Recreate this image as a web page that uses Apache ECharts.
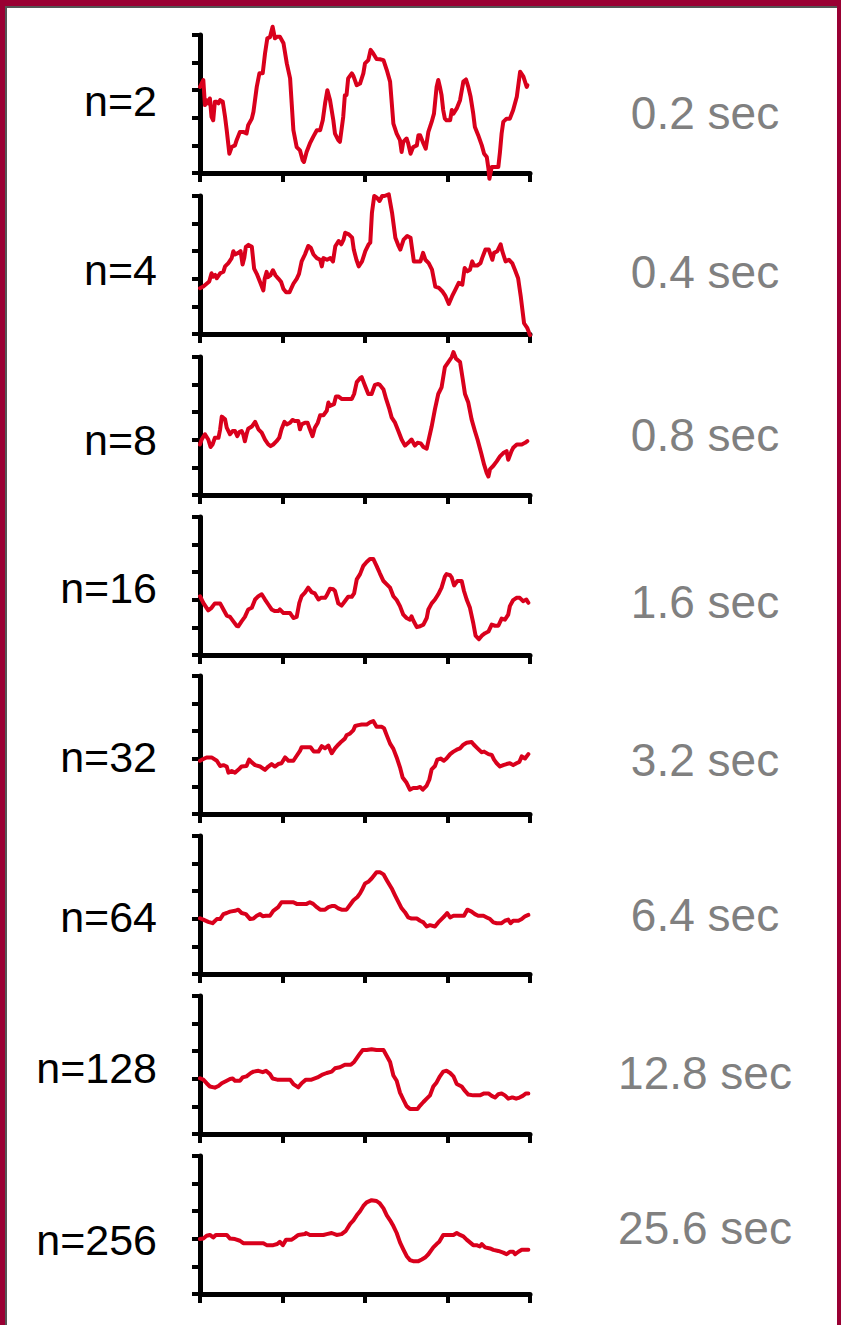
<!DOCTYPE html>
<html>
<head>
<meta charset="utf-8">
<script src="https://cdn.jsdelivr.net/npm/echarts@6/dist/echarts.min.js"></script>
<style>
  html, body { margin: 0; padding: 0; background: #990033; width: 841px; height: 1325px; overflow: hidden; }
  #frame { position: absolute; left: 5px; top: 6px; width: 832px; height: 1319px; background: #ffffff;
           border-left: 2px solid #555; border-top: 2px solid #555; box-sizing: border-box; }
  #chart { position: absolute; left: 0; top: 0; width: 841px; height: 1325px; }
</style>
</head>
<body>
<div id="frame"></div>
<div id="chart"></div>
<script>
// ---------- DATA ----------
const panelLabels = ['n=2', 'n=4', 'n=8', 'n=16', 'n=32', 'n=64', 'n=128', 'n=256'];
const timeLabels = ['0.2 sec', '0.4 sec', '0.8 sec', '1.6 sec', '3.2 sec', '6.4 sec', '12.8 sec', '25.6 sec'];
const xTickValues = [0, 25, 50, 75, 100];
const yTickValues = [0, 1, 2, 3, 4, 5];

const n2 = [[0,3.12],[1.0,3.37],[1.5,2.46],[2.0,2.64],[2.5,2.52],[3.0,2.70],[3.5,2.03],[4.0,1.91],[4.5,2.58],[5.1,2.58],[5.6,2.52],[6.1,2.64],[6.9,2.58],[7.6,2.03],[8.1,1.55],[8.9,0.70],[9.6,0.94],[10.6,1.00],[11.1,1.19],[12.1,1.49],[13.1,1.49],[14.1,1.43],[14.6,1.73],[15.7,1.97],[16.2,2.22],[17.2,3.12],[18.0,3.61],[19.0,3.61],[19.7,4.33],[20.4,4.88],[21.2,4.92],[22.0,5.30],[22.7,4.88],[23.4,4.94],[24.2,4.94],[25.3,4.70],[26.3,3.97],[27.3,3.43],[28.3,1.55],[29.3,0.94],[30.3,0.82],[31.1,0.46],[31.5,0.40],[32.3,0.76],[33.3,1.07],[34.3,1.31],[35.4,1.55],[36.4,1.55],[37.2,1.91],[37.9,2.52],[38.6,3.00],[39.4,2.64],[40.4,1.91],[40.9,1.43],[41.9,1.19],[42.4,1.13],[43.4,2.03],[43.9,2.82],[44.4,2.82],[44.9,3.43],[46.0,3.61],[46.5,3.51],[47.5,3.18],[48.5,3.24],[49.5,3.61],[50.0,3.97],[51.0,4.09],[51.7,4.46],[52.5,4.33],[53.5,4.13],[54.5,4.12],[55.6,4.09],[56.6,3.73],[57.6,3.31],[58.6,1.79],[59.6,1.43],[60.6,1.19],[61.1,0.76],[61.6,1.13],[62.6,1.25],[63.1,1.07],[63.8,0.70],[64.6,0.94],[65.7,1.00],[66.2,1.37],[66.7,1.37],[67.7,1.07],[68.4,0.88],[69.2,1.49],[70.2,1.85],[70.9,2.15],[71.7,3.12],[72.2,3.37],[72.7,3.12],[73.2,2.82],[73.7,2.28],[74.2,1.97],[74.7,1.91],[75.8,1.91],[76.3,2.28],[76.8,2.15],[77.8,2.34],[78.8,2.64],[79.8,3.31],[80.6,3.39],[81.3,3.12],[82.0,2.76],[82.8,2.15],[83.3,1.67],[84.3,1.37],[85.4,1.00],[86.1,0.70],[86.9,0.58],[87.4,0.16],[87.7,-0.21],[88.4,0.22],[89.9,0.22],[90.4,0.22],[90.9,0.76],[91.4,1.43],[91.9,1.85],[92.9,1.97],[93.9,1.97],[94.9,2.28],[96.0,2.76],[97.0,3.67],[98.0,3.49],[99.0,3.12],[99.2,3.18]];

const n4 = [[0,1.66],[1.0,1.72],[2.0,1.82],[2.8,1.90],[3.5,2.20],[4.0,2.08],[4.6,2.14],[5.1,2.02],[6.1,2.20],[7.1,2.26],[7.6,2.45],[8.6,2.57],[9.6,2.75],[10.1,3.00],[10.6,2.88],[11.6,2.94],[12.3,3.00],[12.9,2.52],[13.4,2.75],[13.9,3.16],[14.7,3.23],[15.7,3.16],[16.4,2.37],[17.2,2.18],[18.2,1.88],[19.2,1.58],[19.6,2.00],[20.2,2.25],[20.6,2.06],[21.3,2.12],[22.1,2.31],[22.9,2.12],[23.8,2.00],[24.6,1.88],[25.3,1.63],[26.1,1.51],[27.1,1.51],[28.3,1.82],[29.3,2.00],[30.0,2.18],[30.8,2.63],[31.8,2.88],[32.8,3.19],[33.6,3.12],[34.4,2.88],[35.4,2.75],[36.4,2.69],[36.9,2.45],[37.4,2.75],[38.5,2.69],[39.5,2.75],[40.3,2.63],[41.0,3.18],[42.0,3.37],[42.8,3.25],[43.5,3.42],[44.0,3.67],[45.1,3.61],[46.1,3.49],[46.6,3.06],[47.4,2.69],[48.1,2.45],[49.1,2.63],[50.1,3.00],[51.1,3.25],[51.6,3.31],[52.1,4.39],[52.8,5.00],[53.6,4.94],[54.4,4.82],[55.2,5.00],[55.9,5.00],[57.2,5.06],[58.2,4.39],[59.2,3.49],[60.2,3.18],[60.7,3.06],[61.7,3.42],[62.8,3.55],[63.8,3.49],[64.8,2.63],[65.8,2.63],[66.8,2.63],[67.6,2.94],[68.3,2.69],[69.3,2.57],[70.3,2.33],[71.3,1.72],[72.4,1.67],[73.4,1.55],[74.4,1.37],[75.4,1.09],[76.4,1.37],[77.4,1.61],[78.4,1.85],[79.5,1.79],[80.2,2.39],[81.0,2.27],[81.8,2.33],[82.5,2.63],[83.0,2.48],[84.0,2.48],[85.0,2.57],[85.5,2.75],[86.5,3.06],[87.5,3.06],[88.6,2.69],[89.1,2.94],[90.1,3.00],[91.1,3.25],[91.6,3.00],[92.6,2.63],[93.6,2.69],[94.6,2.57],[95.6,2.27],[96.4,2.02],[97.2,1.36],[98.2,0.39],[99.2,0.21],[100,-0.04]];

const n8 = [[0,1.83],[0.5,2.01],[1.5,2.20],[2.5,2.01],[3.2,1.74],[3.8,1.83],[4.5,2.07],[5.6,2.07],[6.1,2.38],[6.6,2.84],[7.6,2.74],[8.1,2.44],[9.1,2.20],[9.9,2.32],[10.6,2.32],[11.3,2.13],[11.9,2.28],[12.6,2.32],[13.1,2.20],[13.6,1.95],[14.1,2.20],[14.6,2.40],[15.7,2.48],[16.7,2.65],[17.7,2.38],[18.7,2.26],[19.7,2.01],[20.7,1.83],[21.4,1.77],[22.2,1.83],[23.2,1.95],[24.0,2.07],[24.7,2.38],[25.6,2.65],[26.3,2.56],[27.3,2.62],[28.0,2.72],[28.8,2.68],[29.8,2.68],[30.3,2.38],[30.8,2.56],[31.8,2.62],[32.6,2.62],[33.3,2.38],[34.1,2.13],[34.8,2.44],[35.7,2.62],[36.4,2.89],[37.4,2.89],[38.4,3.05],[38.9,3.35],[39.4,3.23],[40.6,3.29],[41.2,3.57],[41.9,3.57],[42.9,3.48],[43.9,3.48],[44.9,3.48],[46.0,3.48],[46.7,3.66],[47.5,4.09],[48.5,4.23],[49.0,4.27],[50.0,3.96],[51.0,3.66],[52.0,3.66],[53.0,3.99],[54.0,4.02],[54.5,3.99],[55.6,3.82],[56.4,3.48],[57.4,3.11],[58.1,2.80],[59.1,2.62],[60.1,2.32],[61.1,2.01],[62.1,1.79],[63.1,1.89],[64.1,2.01],[65.1,1.79],[65.9,1.89],[66.9,1.87],[67.7,1.74],[68.7,1.68],[69.2,1.95],[70.2,2.48],[71.2,3.11],[72.2,3.66],[73.2,3.90],[74.2,4.63],[75.3,4.82],[76.3,5.00],[76.8,5.18],[77.6,4.94],[78.8,4.82],[79.6,4.21],[80.3,3.66],[81.3,3.35],[82.3,2.74],[83.3,2.32],[84.1,2.01],[85.2,1.52],[86.1,1.10],[86.9,0.79],[87.4,0.67],[87.9,0.94],[88.9,1.06],[89.9,1.22],[90.9,1.40],[91.9,1.52],[92.9,1.59],[93.4,1.28],[94.4,1.59],[94.9,1.71],[96.0,1.83],[96.8,1.83],[97.5,1.83],[98.5,1.89],[99.2,1.95]];

const n16 = [[0,2.13],[1.0,1.89],[2.5,1.62],[3.5,1.71],[4.5,1.87],[6.1,1.87],[7.1,1.65],[8.1,1.43],[9.1,1.38],[10.1,1.22],[11.1,1.06],[11.6,1.04],[12.6,1.22],[13.6,1.38],[14.6,1.65],[15.7,1.71],[16.7,2.01],[17.7,2.13],[18.7,2.20],[19.7,2.01],[20.7,1.83],[21.7,1.65],[22.7,1.59],[23.7,1.59],[24.2,1.65],[25.3,1.52],[26.3,1.52],[27.3,1.52],[28.3,1.34],[29.3,1.38],[30.1,1.89],[30.8,2.13],[31.8,2.26],[32.8,2.44],[33.8,2.28],[34.8,2.23],[35.9,2.01],[36.6,2.07],[37.9,2.07],[38.4,2.16],[39.4,2.40],[40.4,2.38],[40.9,2.32],[41.9,1.87],[42.9,1.79],[43.9,1.95],[44.9,2.11],[46.0,2.11],[46.7,2.23],[47.5,2.74],[48.5,2.93],[49.5,3.23],[50.5,3.37],[51.5,3.48],[52.5,3.48],[53.5,3.23],[54.5,2.96],[55.6,2.68],[56.6,2.56],[57.6,2.44],[58.6,2.13],[59.6,1.99],[60.6,1.77],[61.6,1.46],[62.6,1.34],[63.6,1.28],[64.1,1.40],[64.6,1.26],[65.7,1.01],[66.7,1.04],[67.7,1.10],[68.7,1.34],[69.2,1.65],[70.2,1.87],[71.2,2.01],[72.2,2.20],[73.2,2.44],[74.2,2.84],[74.7,2.93],[75.8,2.89],[76.3,2.80],[77.0,2.52],[78.0,2.68],[79.3,2.68],[80.0,2.32],[80.8,2.01],[81.8,1.71],[82.8,1.16],[83.5,0.70],[84.5,0.57],[85.4,0.70],[86.4,0.79],[87.4,0.85],[88.4,1.10],[89.4,1.06],[90.4,1.06],[91.4,1.32],[92.4,1.28],[93.4,1.46],[93.9,1.77],[94.9,1.99],[95.9,2.07],[96.9,2.07],[97.9,1.95],[98.9,2.01],[99.5,1.89]];

const n32 = [[0,1.93],[1.0,1.99],[2.0,2.05],[3.5,2.05],[5.1,1.93],[6.1,1.74],[7.1,1.77],[8.1,1.72],[8.6,1.50],[9.6,1.56],[10.6,1.50],[11.6,1.60],[12.6,1.72],[14.1,1.74],[14.9,1.97],[15.7,1.87],[16.7,1.77],[18.2,1.72],[19.7,1.60],[20.7,1.72],[21.7,1.81],[22.7,1.72],[23.7,1.81],[24.7,1.84],[25.8,2.05],[26.8,1.93],[28.3,1.93],[29.3,2.11],[30.3,2.29],[30.8,2.42],[32.3,2.42],[33.5,2.42],[34.5,2.26],[35.9,2.26],[36.9,2.46],[37.9,2.38],[38.9,2.48],[39.9,2.20],[40.9,2.38],[41.9,2.51],[42.9,2.63],[43.9,2.73],[44.4,2.85],[45.5,2.92],[46.5,3.04],[47.0,3.19],[48.0,3.22],[49.0,3.24],[50.5,3.24],[51.5,3.32],[52.5,3.37],[53.5,3.16],[55.1,3.16],[55.8,3.10],[56.6,2.85],[57.6,2.55],[58.6,2.36],[59.6,2.05],[60.6,1.69],[61.4,1.32],[62.6,1.13],[63.6,0.88],[64.6,0.94],[65.7,0.94],[66.7,0.98],[67.5,0.88],[68.7,1.03],[69.5,1.25],[70.2,1.62],[71.2,1.74],[71.9,1.97],[72.9,2.01],[73.9,1.93],[74.7,2.01],[75.8,2.17],[76.8,2.26],[77.8,2.33],[78.8,2.38],[79.8,2.51],[80.8,2.58],[82.3,2.61],[83.0,2.51],[84.1,2.38],[85.3,2.24],[86.1,2.26],[87.4,2.17],[88.4,2.14],[89.1,1.97],[89.9,1.84],[90.9,1.72],[91.9,1.77],[92.9,1.81],[93.9,1.84],[94.9,1.77],[95.9,1.84],[96.8,1.89],[97.5,2.09],[98.5,2.01],[99.5,2.17]];

const n64 = [[0,2.02],[1.0,1.97],[2.5,1.89],[3.8,1.84],[5.1,1.99],[6.1,1.99],[7.1,2.17],[8.1,2.21],[9.1,2.26],[10.6,2.29],[11.6,2.33],[12.6,2.21],[13.9,2.17],[15.2,1.99],[16.2,2.01],[17.2,2.11],[18.2,2.17],[19.0,2.09],[20.0,2.11],[21.2,2.11],[22.2,2.29],[23.7,2.42],[24.7,2.60],[26.3,2.60],[28.3,2.60],[29.3,2.54],[30.8,2.54],[32.3,2.54],[33.3,2.60],[34.3,2.54],[35.4,2.42],[36.4,2.33],[37.9,2.33],[38.9,2.42],[39.9,2.46],[40.9,2.46],[41.9,2.38],[42.9,2.33],[44.4,2.33],[45.5,2.51],[46.5,2.67],[47.7,2.79],[48.5,2.92],[49.3,3.10],[50.0,3.28],[51.0,3.34],[52.0,3.46],[53.5,3.69],[54.5,3.69],[55.6,3.61],[56.6,3.40],[58.1,3.10],[59.1,2.85],[60.1,2.61],[61.1,2.38],[62.1,2.24],[63.1,2.05],[64.1,2.01],[65.7,2.01],[66.7,1.93],[67.7,1.87],[68.7,1.72],[69.7,1.77],[71.2,1.72],[72.2,1.87],[73.2,1.99],[74.2,2.11],[74.9,2.21],[75.8,2.05],[76.8,2.11],[77.8,2.11],[79.3,2.11],[80.0,2.11],[81.0,2.33],[82.3,2.26],[83.3,2.17],[84.3,2.11],[85.9,2.11],[86.9,2.05],[87.9,1.99],[88.9,1.87],[89.9,1.84],[91.4,1.84],[92.4,1.93],[93.4,1.97],[94.1,1.84],[94.9,1.93],[96.5,1.93],[97.5,1.99],[98.5,2.09],[99.5,2.14]];

const n128 = [[0,2.02],[1.0,1.97],[2.0,1.84],[3.0,1.72],[4.5,1.68],[5.6,1.74],[6.6,1.84],[8.1,1.93],[9.1,1.99],[9.9,2.01],[10.6,1.93],[12.1,1.93],[12.9,2.05],[14.1,2.09],[15.4,2.21],[16.2,2.26],[17.7,2.29],[19.0,2.24],[20.0,2.29],[21.2,2.17],[22.0,2.01],[23.4,1.97],[24.7,1.97],[27.3,1.97],[28.3,1.81],[29.8,1.69],[30.8,1.84],[32.1,1.97],[33.8,1.97],[35.6,2.05],[36.9,2.14],[38.4,2.21],[39.9,2.26],[40.9,2.38],[42.4,2.42],[43.9,2.51],[45.7,2.51],[46.7,2.61],[47.5,2.75],[48.5,2.92],[49.3,3.04],[50.5,3.04],[52.0,3.07],[53.5,3.04],[55.6,3.04],[56.6,2.83],[57.6,2.61],[58.6,2.12],[59.6,1.93],[60.6,1.50],[61.6,1.25],[62.6,1.01],[63.6,0.91],[64.6,0.91],[65.9,0.91],[66.7,1.03],[67.7,1.16],[68.7,1.28],[69.7,1.40],[70.7,1.72],[71.7,1.87],[72.7,2.09],[73.7,2.26],[74.7,2.29],[75.8,2.21],[76.8,2.09],[77.8,1.81],[79.3,1.72],[80.3,1.56],[81.3,1.43],[82.8,1.40],[84.8,1.40],[86.1,1.47],[87.4,1.47],[88.4,1.38],[89.4,1.32],[90.4,1.44],[91.4,1.47],[92.4,1.40],[93.4,1.28],[94.4,1.32],[94.9,1.32],[95.8,1.28],[96.8,1.32],[97.8,1.38],[98.8,1.47],[99.5,1.47]];

const n256 = [[0,1.99],[1.0,2.01],[2.0,2.11],[3.0,2.14],[4.0,2.05],[4.8,2.14],[6.6,2.14],[8.1,2.14],[9.1,2.01],[10.6,1.99],[12.1,1.93],[13.1,1.84],[15.2,1.84],[17.7,1.84],[19.2,1.84],[20.2,1.77],[22.2,1.77],[23.4,1.81],[24.2,1.89],[25.1,1.77],[26.1,1.97],[27.8,1.97],[28.8,2.05],[29.8,2.14],[31.8,2.17],[32.1,2.21],[33.3,2.14],[35.4,2.14],[37.4,2.14],[38.4,2.17],[39.9,2.21],[41.4,2.14],[42.9,2.17],[44.2,2.29],[45.5,2.54],[46.5,2.67],[47.5,2.85],[48.5,3.00],[49.5,3.19],[50.5,3.32],[52.0,3.40],[53.5,3.37],[54.5,3.28],[55.6,3.10],[56.6,2.85],[57.6,2.67],[58.6,2.46],[59.6,2.21],[60.6,1.87],[61.6,1.62],[62.6,1.38],[63.6,1.23],[64.6,1.19],[66.2,1.19],[67.2,1.25],[68.2,1.32],[69.2,1.44],[70.7,1.69],[71.7,1.81],[72.5,1.89],[73.7,2.14],[75.3,2.14],[76.8,2.14],[77.8,2.21],[78.8,2.14],[79.8,2.09],[80.8,1.97],[81.8,1.87],[82.8,1.77],[83.8,1.77],[84.8,1.72],[85.4,1.81],[86.4,1.69],[87.9,1.65],[88.9,1.60],[90.4,1.56],[91.9,1.50],[92.9,1.44],[93.9,1.53],[94.9,1.53],[95.5,1.44],[96.5,1.53],[97.5,1.60],[99.5,1.60]];

const panelSeries = [n2, n4, n8, n16, n32, n64, n128, n256];

// ---------- LAYOUT ----------
const axisBottoms = [173, 334, 495, 655, 814, 974, 1134, 1294];
const plotHeight = 138;
const leftLabelY = [101, 270, 440, 588, 757, 917, 1068, 1240];
const rightLabelY = [113, 272, 435, 602, 760, 915, 1073, 1228];

const chart = echarts.init(document.getElementById('chart'), null, { renderer: 'svg', width: 841, height: 1325 });

const grids = [], xAxes = [], yAxes = [], series = [], graphics = [];
panelSeries.forEach((data, i) => {
  grids.push({ left: 200, width: 330, top: axisBottoms[i] - plotHeight, height: plotHeight, containLabel: false });
  xAxes.push({
    type: 'value', gridIndex: i, min: xTickValues[0], max: xTickValues[xTickValues.length - 1],
    interval: xTickValues[1] - xTickValues[0],
    axisLine: { show: true, onZero: false, lineStyle: { color: '#000', width: 5 } },
    axisTick: { show: true, length: 9, lineStyle: { color: '#000', width: 4 } },
    axisLabel: { show: false }, splitLine: { show: false }
  });
  yAxes.push({
    type: 'value', gridIndex: i, min: yTickValues[0], max: yTickValues[yTickValues.length - 1],
    interval: yTickValues[1] - yTickValues[0],
    axisLine: { show: true, onZero: false, lineStyle: { color: '#000', width: 5 } },
    axisTick: { show: true, length: 8, lineStyle: { color: '#000', width: 4 } },
    axisLabel: { show: false }, splitLine: { show: false }
  });
  series.push({
    type: 'line', xAxisIndex: i, yAxisIndex: i, data: data, showSymbol: false, symbol: 'none',
    clip: false, lineStyle: { color: '#d9001c', width: 4, join: 'round', cap: 'round' }, z: 1
  });
  graphics.push({
    type: 'text', x: 157, y: leftLabelY[i],
    style: { text: panelLabels[i], fill: '#000', font: '43px "Liberation Sans"', textAlign: 'right', textVerticalAlign: 'middle' }
  });
  graphics.push({
    type: 'text', x: 705, y: rightLabelY[i],
    style: { text: timeLabels[i], fill: '#808080', font: '46px "Liberation Sans"', textAlign: 'center', textVerticalAlign: 'middle' }
  });
});

chart.setOption({
  animation: false,
  backgroundColor: 'transparent',
  grid: grids, xAxis: xAxes, yAxis: yAxes, series: series,
  graphic: graphics
});
</script>
</body>
</html>
